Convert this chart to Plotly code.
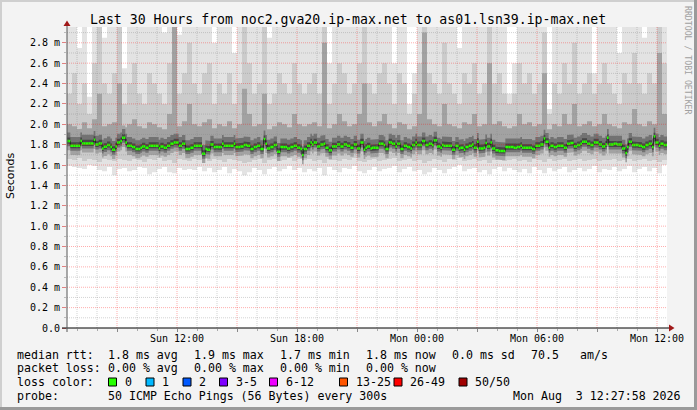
import plotly.graph_objects as go

# ---------------- data ----------------
# hours since Sunday 00:00 at the left edge of the graph; 5-minute steps
t_start_h = 6.5
step_h = 5 / 60
smoke_col_h = 0.25

# median rtt per 5-minute step, in ms
median_ms = [
    1.835, 1.835, 1.789, 1.789, 1.789, 1.789, 1.789, 1.789, 1.835, 1.812,
    1.812, 1.812, 1.812, 1.812, 1.812, 1.812, 1.848, 1.802, 1.802, 1.812,
    1.812, 1.763, 1.779, 1.779, 1.796, 1.796, 1.776, 1.750, 1.750, 1.783,
    1.822, 1.822, 1.835, 1.868, 1.868, 1.822, 1.789, 1.789, 1.789, 1.776,
    1.776, 1.757, 1.757, 1.757, 1.770, 1.783, 1.783, 1.770, 1.770, 1.789,
    1.789, 1.789, 1.789, 1.789, 1.789, 1.763, 1.783, 1.783, 1.770, 1.770,
    1.789, 1.789, 1.809, 1.809, 1.822, 1.822, 1.822, 1.789, 1.789, 1.809,
    1.809, 1.757, 1.757, 1.757, 1.770, 1.770, 1.789, 1.789, 1.789, 1.789,
    1.789, 1.711, 1.711, 1.757, 1.750, 1.750, 1.802, 1.802, 1.776, 1.776,
    1.776, 1.776, 1.776, 1.809, 1.789, 1.789, 1.789, 1.789, 1.789, 1.789,
    1.809, 1.776, 1.776, 1.776, 1.783, 1.783, 1.796, 1.796, 1.789, 1.789,
    1.757, 1.757, 1.776, 1.776, 1.789, 1.789, 1.757, 1.757, 1.855, 1.809,
    1.763, 1.763, 1.776, 1.776, 1.796, 1.796, 1.730, 1.730, 1.776, 1.776,
    1.776, 1.776, 1.763, 1.763, 1.776, 1.776, 1.789, 1.789, 1.770, 1.770,
    1.757, 1.698, 1.757, 1.757, 1.789, 1.789, 1.822, 1.802, 1.822, 1.822,
    1.783, 1.783, 1.802, 1.802, 1.809, 1.770, 1.770, 1.744, 1.744, 1.783,
    1.783, 1.783, 1.802, 1.802, 1.783, 1.783, 1.802, 1.802, 1.789, 1.789,
    1.770, 1.770, 1.802, 1.802, 1.763, 1.763, 1.822, 1.822, 1.750, 1.770,
    1.783, 1.783, 1.763, 1.770, 1.770, 1.770, 1.770, 1.809, 1.809, 1.809,
    1.796, 1.757, 1.757, 1.822, 1.822, 1.809, 1.809, 1.783, 1.809, 1.809,
    1.757, 1.757, 1.789, 1.789, 1.776, 1.776, 1.763, 1.796, 1.796, 1.822,
    1.796, 1.796, 1.796, 1.835, 1.835, 1.796, 1.796, 1.809, 1.809, 1.796,
    1.842, 1.842, 1.783, 1.783, 1.770, 1.796, 1.789, 1.789, 1.789, 1.789,
    1.789, 1.750, 1.750, 1.789, 1.789, 1.763, 1.770, 1.770, 1.750, 1.776,
    1.776, 1.789, 1.789, 1.802, 1.770, 1.770, 1.829, 1.763, 1.763, 1.763,
    1.770, 1.815, 1.783, 1.783, 1.822, 1.763, 1.763, 1.744, 1.744, 1.737,
    1.737, 1.737, 1.737, 1.776, 1.776, 1.776, 1.776, 1.776, 1.770, 1.770,
    1.776, 1.776, 1.789, 1.770, 1.770, 1.770, 1.770, 1.770, 1.770, 1.757,
    1.757, 1.789, 1.789, 1.789, 1.802, 1.802, 1.861, 1.829, 1.829, 1.770,
    1.789, 1.789, 1.776, 1.776, 1.789, 1.789, 1.789, 1.789, 1.770, 1.770,
    1.809, 1.809, 1.815, 1.815, 1.783, 1.783, 1.796, 1.796, 1.809, 1.829,
    1.829, 1.829, 1.809, 1.809, 1.796, 1.796, 1.822, 1.822, 1.822, 1.802,
    1.802, 1.783, 1.783, 1.802, 1.868, 1.802, 1.802, 1.802, 1.809, 1.809,
    1.802, 1.802, 1.802, 1.763, 1.763, 1.717, 1.776, 1.829, 1.829, 1.796,
    1.796, 1.796, 1.796, 1.789, 1.789, 1.776, 1.776, 1.796, 1.796, 1.809,
    1.809, 1.776, 1.881, 1.822, 1.822, 1.789, 1.809, 1.809, 1.796, 1.796,
]

# smoke (ping spread) per 15-minute column, in ms
ping_min = [
    1.59, 1.58, 1.57, 1.56, 1.60, 1.59, 1.55, 1.54, 1.58, 1.50, 1.56, 1.57,
    1.54, 1.55, 1.58, 1.57, 1.51, 1.53, 1.56, 1.58, 1.53, 1.52, 1.57, 1.55,
    1.56, 1.55, 1.58, 1.54, 1.57, 1.53, 1.55, 1.58, 1.52, 1.56, 1.54, 1.50,
    1.53, 1.57, 1.55, 1.51, 1.56, 1.58, 1.54, 1.56, 1.59, 1.55, 1.57, 1.53,
    1.56, 1.54, 1.57, 1.50, 1.58, 1.55, 1.53, 1.57, 1.56, 1.59, 1.54, 1.52,
    1.55, 1.58, 1.54, 1.56, 1.57, 1.59, 1.53, 1.56, 1.58, 1.54, 1.55, 1.51,
    1.53, 1.57, 1.55, 1.52, 1.56, 1.58, 1.60, 1.54, 1.56, 1.57, 1.53, 1.55,
    1.51, 1.56, 1.58, 1.54, 1.57, 1.55, 1.53, 1.56, 1.52, 1.58, 1.55, 1.52,
    1.57, 1.54, 1.56, 1.58, 1.53, 1.55, 1.57, 1.54, 1.56, 1.59, 1.53, 1.56,
    1.55, 1.58, 1.54, 1.56, 1.59, 1.53, 1.56, 1.58, 1.54, 1.57, 1.52, 1.60,
]
ping_low = [
    1.66, 1.65, 1.67, 1.64, 1.66, 1.65, 1.63, 1.66, 1.65, 1.64, 1.66, 1.65,
    1.64, 1.66, 1.65, 1.63, 1.66, 1.65, 1.67, 1.64, 1.65, 1.62, 1.66, 1.65,
    1.64, 1.66, 1.65, 1.67, 1.64, 1.66, 1.65, 1.63, 1.66, 1.65, 1.64, 1.62,
    1.63, 1.65, 1.66, 1.62, 1.65, 1.66, 1.64, 1.65, 1.67, 1.64, 1.66, 1.65,
    1.66, 1.64, 1.65, 1.62, 1.66, 1.65, 1.64, 1.66, 1.65, 1.67, 1.64, 1.63,
    1.65, 1.66, 1.64, 1.65, 1.66, 1.67, 1.64, 1.65, 1.66, 1.64, 1.65, 1.62,
    1.64, 1.66, 1.65, 1.63, 1.66, 1.65, 1.67, 1.64, 1.65, 1.66, 1.64, 1.65,
    1.62, 1.65, 1.66, 1.64, 1.65, 1.66, 1.64, 1.65, 1.63, 1.66, 1.65, 1.63,
    1.66, 1.64, 1.65, 1.66, 1.64, 1.65, 1.66, 1.64, 1.65, 1.66, 1.64, 1.65,
    1.65, 1.66, 1.64, 1.65, 1.66, 1.64, 1.65, 1.66, 1.64, 1.65, 1.63, 1.65,
]
ping_high = [
    2.00, 1.98, 1.95, 2.02, 1.96, 2.05, 2.30, 1.98, 2.00, 2.02, 2.40, 1.97,
    2.00, 2.05, 1.98, 1.96, 2.02, 2.00, 1.97, 1.95, 2.10, 3.00, 1.98, 2.03,
    2.20, 2.00, 1.98, 2.02, 2.05, 1.96, 2.00, 1.98, 2.03, 1.96, 2.00, 2.35,
    2.10, 1.98, 2.00, 2.30, 1.95, 1.98, 2.02, 2.00, 1.97, 2.10, 2.00, 1.98,
    2.00, 2.02, 1.98, 2.80, 1.96, 2.00, 2.10, 2.03, 1.98, 2.00, 2.10, 2.40,
    2.02, 1.98, 2.03, 2.10, 2.00, 1.96, 2.02, 2.00, 1.95, 1.98, 2.10, 2.90,
    2.05, 2.00, 1.98, 2.20, 2.00, 1.98, 1.96, 2.02, 2.00, 2.10, 1.98, 2.00,
    2.60, 2.00, 2.03, 1.98, 1.96, 1.98, 2.10, 2.00, 2.02, 1.98, 2.00, 2.50,
    1.95, 2.00, 1.98, 2.10, 2.00, 2.20, 1.98, 2.00, 2.03, 1.98, 2.00, 2.10,
    2.00, 1.98, 1.96, 2.02, 2.00, 2.15, 2.00, 1.98, 2.03, 2.00, 2.70, 2.10,
]
ping_upper = [
    2.3, 2.5, 2.2, 2.4, 2.1, 2.6, 3.0, 2.4, 2.3, 2.5, 3.0, 2.2,
    2.4, 2.6, 2.3, 2.2, 2.5, 2.4, 2.3, 2.2, 2.6, 3.0, 2.3, 2.5,
    2.8, 2.4, 2.3, 2.5, 2.6, 2.2, 2.4, 2.3, 2.5, 2.2, 2.4, 3.0,
    2.6, 2.3, 2.4, 3.0, 2.2, 2.3, 2.5, 2.4, 2.3, 2.6, 2.4, 2.3,
    2.4, 2.5, 2.3, 3.0, 2.2, 2.4, 2.6, 2.5, 2.3, 2.4, 2.6, 3.0,
    2.4, 2.3, 2.5, 2.6, 2.4, 2.2, 2.5, 2.4, 2.1, 2.3, 2.6, 3.0,
    2.5, 2.4, 2.3, 2.8, 2.4, 2.3, 2.2, 2.5, 2.4, 2.6, 2.3, 2.4,
    3.0, 2.4, 2.5, 2.3, 2.2, 2.3, 2.6, 2.4, 2.5, 2.3, 2.4, 2.9,
    2.1, 2.4, 2.3, 2.6, 2.4, 2.8, 2.3, 2.4, 2.5, 2.3, 2.4, 2.6,
    2.4, 2.3, 2.2, 2.5, 2.4, 2.7, 2.4, 2.3, 2.5, 2.4, 3.0, 2.6,
]
ping_max = [
    3.0, 3.0, 2.75, 3.0, 2.27, 3.0, 3.0, 2.85, 3.0, 3.0, 3.0, 2.55,
    3.0, 3.0, 3.0, 3.0, 3.0, 3.0, 3.0, 2.9, 3.0, 3.0, 2.88, 3.0,
    3.0, 3.0, 3.0, 3.0, 3.0, 2.8, 3.0, 3.0, 3.0, 2.7, 3.0, 3.0,
    3.0, 3.0, 3.0, 3.0, 2.85, 3.0, 3.0, 3.0, 3.0, 3.0, 3.0, 3.0,
    3.0, 3.0, 3.0, 3.0, 2.6, 3.0, 3.0, 3.0, 3.0, 3.0, 3.0, 3.0,
    3.0, 3.0, 3.0, 3.0, 3.0, 2.6, 3.0, 3.0, 2.2, 2.5, 3.0, 3.0,
    3.0, 3.0, 3.0, 3.0, 3.0, 3.0, 2.75, 3.0, 3.0, 3.0, 3.0, 3.0,
    3.0, 3.0, 3.0, 3.0, 2.3, 2.6, 3.0, 3.0, 3.0, 3.0, 3.0, 3.0,
    2.15, 3.0, 3.0, 3.0, 3.0, 3.0, 3.0, 3.0, 3.0, 2.5, 3.0, 3.0,
    3.0, 3.0, 2.7, 3.0, 3.0, 3.0, 3.0, 2.85, 3.0, 3.0, 3.0, 3.0,
]

y_tick_vals = [0.0, 0.2, 0.4, 0.6, 0.8, 1.0, 1.2, 1.4, 1.6, 1.8, 2.0, 2.2, 2.4, 2.6, 2.8]
y_tick_text = ["0.0"] + ["%.1f m" % v for v in y_tick_vals[1:]]
x_tick_vals = [9, 12, 15, 18, 21, 24, 27, 30, 33, 36]
x_tick_text = ["", "Sun 12:00", "", "Sun 18:00", "", "Mon 00:00", "", "Mon 06:00", "", "Mon 12:00"]

loss_labels = ["0", "1", "2", "3-5", "6-12", "13-25", "26-49", "50/50"]
loss_colors = ["#26ff00", "#00b8ff", "#0059ff", "#7e00ff", "#ee00ff", "#ff5500", "#ff0000", "#a10000"]

title_text = "Last 30 Hours from noc2.gva20.ip-max.net to as01.lsn39.ip-max.net"

# ---------------- geometry (pixels) ----------------
W, H = 697, 410
PL, PR, PT, PB = 67, 667, 27, 328
Y_MAX = 2.955
MONO = "DejaVu Sans Mono"


def X(px):
    return (px - PL) / (PR - PL)


def Y(py):
    return (PB - py) / (PB - PT)


fig = go.Figure()


def step_band(lo, hi, width, color):
    xs, ys = [], []
    n = len(lo)
    for k in range(n):
        x0 = t_start_h + k * width
        xs += [x0, x0 + width]
        ys += [hi[k], hi[k]]
    for k in reversed(range(n)):
        x0 = t_start_h + k * width
        xs += [x0 + width, x0]
        ys += [lo[k], lo[k]]
    fig.add_trace(go.Scatter(x=xs, y=ys, mode="lines", fill="toself",
                             fillcolor=color, line=dict(width=0),
                             hoverinfo="skip", showlegend=False))


n_steps = len(median_ms)
per_col = int(round(smoke_col_h / step_h))

# outer smoke
step_band(ping_min, ping_max, smoke_col_h, "#e3e3e3")
step_band(ping_low, [min(u, m) for u, m in zip(ping_upper, ping_max)], smoke_col_h, "#cbcbcb")
# inner smoke around the median
l3_lo = [m - 0.09 for m in median_ms]
l3_hi = [max(ping_high[i // per_col], median_ms[i] + 0.12) for i in range(n_steps)]
step_band(l3_lo, l3_hi, step_h, "#a2a2a2")
step_band([m - 0.05 for m in median_ms], [m + 0.085 for m in median_ms], step_h, "#727272")
step_band([m - 0.025 for m in median_ms], [m + 0.035 for m in median_ms], step_h, "#474747")

# median line (dark connecting line) and green loss-colored segments
mx, my = [], []
for i, m in enumerate(median_ms):
    x0 = t_start_h + i * step_h
    mx += [x0, x0 + step_h]
    my += [m, m]
fig.add_trace(go.Scatter(x=mx, y=my, mode="lines", line=dict(color="#202020", width=1),
                         hoverinfo="skip", showlegend=False))
gx, gy = [], []
for i, m in enumerate(median_ms):
    x0 = t_start_h + i * step_h
    gx += [x0, x0 + step_h, None]
    gy += [m, m, None]
fig.add_trace(go.Scatter(x=gx, y=gy, mode="lines", line=dict(color=loss_colors[0], width=2.5),
                         hoverinfo="skip", showlegend=False))

shapes = []
# grid (drawn over the graph, like rrdtool)
minor_c = "rgba(130,130,130,0.35)"
major_c = "rgba(255,0,0,0.32)"
h = 7
while h <= 36:
    shapes.append(dict(type="line", xref="x", yref="paper", x0=h, x1=h, y0=0, y1=1,
                       line=dict(color=major_c if h % 3 == 0 else minor_c, width=1, dash="1px,1px"),
                       layer="above"))
    h += 1
for k in range(1, 30):
    v = k / 10
    shapes.append(dict(type="line", xref="paper", yref="y", x0=0, x1=1, y0=v, y1=v,
                       line=dict(color=major_c if k % 2 == 0 else minor_c, width=1, dash="1px,1px"),
                       layer="above"))

# axes lines and arrows
shapes.append(dict(type="line", xref="paper", yref="paper", x0=X(62), x1=X(670), y0=Y(328), y1=Y(328),
                   line=dict(color="#000000", width=1), layer="above"))
shapes.append(dict(type="line", xref="paper", yref="paper", x0=X(67), x1=X(67), y0=Y(332), y1=Y(23),
                   line=dict(color="#555555", width=1), layer="above"))
shapes.append(dict(type="path", xref="paper", yref="paper",
                   path="M %f %f L %f %f L %f %f Z" % (X(674.5), Y(328), X(669), Y(324.5), X(669), Y(331.5)),
                   fillcolor="#a01818", line=dict(width=0), layer="above"))
shapes.append(dict(type="path", xref="paper", yref="paper",
                   path="M %f %f L %f %f L %f %f Z" % (X(67), Y(20.5), X(63.5), Y(26), X(70.5), Y(26)),
                   fillcolor="#a01818", line=dict(width=0), layer="above"))

# frame around the image
shapes.append(dict(type="rect", xref="paper", yref="paper", x0=X(0), x1=X(697), y0=Y(0), y1=Y(2),
                   fillcolor="#cfcfcf", line=dict(width=0), layer="above"))
shapes.append(dict(type="rect", xref="paper", yref="paper", x0=X(0), x1=X(2), y0=Y(0), y1=Y(410),
                   fillcolor="#cfcfcf", line=dict(width=0), layer="above"))
shapes.append(dict(type="rect", xref="paper", yref="paper", x0=X(0), x1=X(697), y0=Y(407), y1=Y(410),
                   fillcolor="#9a9a9a", line=dict(width=0), layer="above"))
shapes.append(dict(type="rect", xref="paper", yref="paper", x0=X(694), x1=X(697), y0=Y(0), y1=Y(410),
                   fillcolor="#9a9a9a", line=dict(width=0), layer="above"))

annotations = []


def text(t, x, y, anchor="left", size=11.6, family=MONO, color="#000000", angle=0):
    annotations.append(dict(text=t, x=X(x), y=Y(y), xref="paper", yref="paper",
                            xanchor=anchor, yanchor="middle", showarrow=False, textangle=angle,
                            font=dict(family=family, size=size, color=color), borderpad=0))


text(title_text, 347.5, 19, anchor="center", size=13.2)
text("Seconds", 10, 176, anchor="center", size=11, family="DejaVu Sans", angle=-90)
text("RRDTOOL / TOBI OETIKER", 688, 60, anchor="center", size=8.2, color="#a0a0a0", angle=90)

L1, L2, L3, L4 = 354.5, 368, 382, 396
text("median rtt:", 16, L1)
text("1.8 ms avg", 106.5, L1)
text("1.9 ms max", 192.5, L1)
text("1.7 ms min", 279, L1)
text("1.8 ms now", 364.5, L1)
text("0.0 ms sd", 451, L1)
text("70.5", 529.5, L1)
text("am/s", 578.5, L1)

text("packet loss:", 16, L2)
text("0.00 % avg", 106.5, L2)
text("0.00 % max", 192.5, L2)
text("0.00 % min", 279, L2)
text("0.00 % now", 364.5, L2)

text("loss color:", 16, L3)
box_x = [108.5, 146, 183, 219.5, 269.5, 339.5, 394, 459]
for bx, lab, col in zip(box_x, loss_labels, loss_colors):
    shapes.append(dict(type="rect", xref="paper", yref="paper", x0=X(bx), x1=X(bx + 8),
                       y0=Y(L3 + 4), y1=Y(L3 - 4), fillcolor=col,
                       line=dict(color="#000000", width=1), layer="above"))
    text(lab, bx + 15, L3)

text("probe:", 16, L4)
text("50 ICMP Echo Pings (56 Bytes) every 300s", 106.5, L4)
text("Mon Aug  3 12:27:58 2026", 682, L4, anchor="right")

fig.update_layout(
    width=W, height=H,
    margin=dict(l=PL, r=W - PR, t=PT, b=H - PB, pad=0),
    paper_bgcolor="#f3f3f3", plot_bgcolor="#ffffff",
    showlegend=False,
    shapes=shapes, annotations=annotations,
    xaxis=dict(range=[t_start_h, t_start_h + 30], showgrid=False, zeroline=False,
               tickmode="array", tickvals=x_tick_vals, ticktext=x_tick_text,
               ticks="outside", ticklen=3, tickcolor="#888888", showline=False,
               ticklabelstandoff=-2,
               tickfont=dict(family=MONO, size=10, color="#000000"),
               minor=dict(dtick=1, tick0=0, ticks="outside", ticklen=2, tickcolor="#aaaaaa", showgrid=False),
               fixedrange=True),
    yaxis=dict(range=[0, Y_MAX], showgrid=False, zeroline=False,
               tickmode="array", tickvals=y_tick_vals, ticktext=y_tick_text,
               ticks="outside", ticklen=4, tickcolor="#e08080", showline=False,
               tickfont=dict(family=MONO, size=10, color="#000000"),
               minor=dict(dtick=0.1, tick0=0, ticks="outside", ticklen=2, tickcolor="#bbbbbb", showgrid=False),
               fixedrange=True),
)

fig.write_html("out.html", config={"displayModeBar": False},
               post_script="document.body.style.margin='0';document.body.style.overflow='hidden';")
